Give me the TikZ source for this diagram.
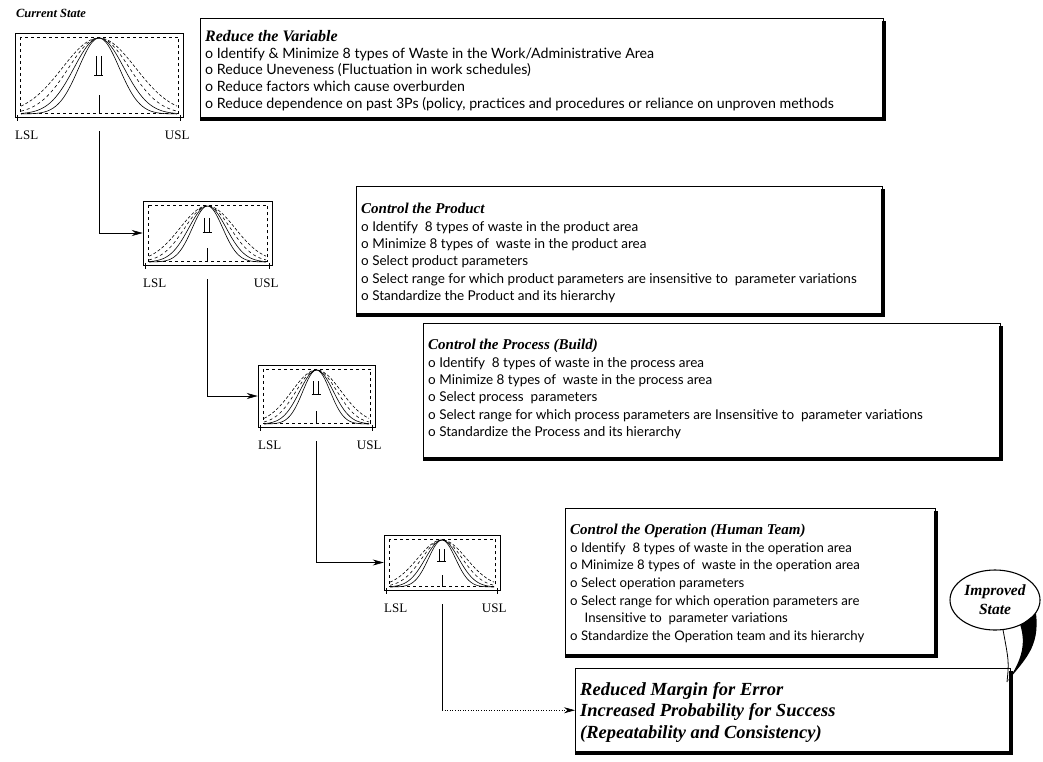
\documentclass[tikz,border=0pt]{standalone}
\usepackage{fontspec}
\setmainfont{Liberation Serif}
\newfontfamily\bodyfont{Lato}
\usetikzlibrary{arrows.meta,calc,shapes.geometric}

% heading inside a step box
\newcommand\stephead[1]{{\rmfamily\bfseries\itshape\fontsize{15}{17}\selectfont #1}}

\tikzset{
  shbox/.style={draw, line width=0.5pt, rectangle, anchor=north west, inner sep=0pt},
  boxtext/.style={anchor=north west, align=left, inner sep=0pt,
    font=\bodyfont\fontsize{13.5}{17.4}\selectfont},
  conn/.style={line width=0.6pt, -{Stealth[length=11pt,width=6pt]}},
  frame/.style={draw, line width=0.5pt, rectangle, inner sep=0pt},
  innerframe/.style={draw, line width=0.4pt, dashed},
  bell/.style={line width=0.6pt},
  lbl/.style={font=\rmfamily\fontsize{13}{14}\selectfont, inner sep=0pt},
  shadowedge/.style={line width=4pt, line join=miter},
}

% bell-curve panel: #1 name, #2 left, #3 top, #4 right, #5 bottom
\newcommand\bellgraph[5]{%
  \node[frame, minimum width={#4-#2}, minimum height={#5-#3}] (#1) at ({(#2+#4)/2},{(#3+#5)/2}) {};
  \draw[innerframe] ($(#1.north west)+(5,4)$) rectangle ($(#1.south east)+(-5,-4)$);
  \pgfmathsetmacro\cx{(#2+#4)/2}%
  \pgfmathsetmacro\base{#5-3}%
  \pgfmathsetmacro\hh{#5-#3-8}%
  \pgfmathsetmacro\ww{(#4-#2)/2-6}%
  \foreach \s/\st in {0.26/solid, 0.32/solid, 0.39/dashed, 0.47/densely dashed} {
    \draw[bell, \st] plot[domain=-\ww:\ww, samples=60, smooth, variable=\t]
      ({\cx+\t},{\base-\hh*exp(-0.5*(\t*\t)/((\s*\ww)*(\s*\ww)))});
  }
  \draw[line width=0.5pt] (\cx,\base) -- (\cx,{\base-0.25*\hh});
  \draw[line width=0.5pt] ({\cx-3},{#3+0.3*\hh}) -- ({\cx-3},{#3+0.55*\hh})
                          ({\cx+2},{#3+0.3*\hh}) -- ({\cx+2},{#3+0.55*\hh})
                          ({\cx-5},{#3+0.55*\hh}) -- ({\cx+4},{#3+0.55*\hh});
  \draw[line width=1pt] ($(#1.south west)+(3,-2)$) -- ++(0,6);
  \draw[line width=1pt] ($(#1.south east)+(-3,-2)$) -- ++(0,6);
  \node[lbl] (#1-lsl) at ($(#1.south west)+(12,18)$) {LSL};
  \node[lbl] (#1-usl) at ($(#1.south east)+(-6,18)$) {USL};
}

\begin{document}
\begin{tikzpicture}[x=1pt, y=-1pt]
\useasboundingbox (0,0) rectangle (1043,761);

\node[font=\rmfamily\bfseries\itshape\fontsize{12.5}{14}\selectfont] (cur) at (51,13) {Current State};

% bell-curve panels
\bellgraph{c1}{15}{33}{183}{117}
\bellgraph{c2}{143}{201}{272}{265}
\bellgraph{c3}{258}{365}{375}{427}
\bellgraph{c4}{384}{535}{500}{590}

% step boxes
\node[shbox, minimum width=683, minimum height=100] (b1) at (200,18) {};
\node[boxtext, font=\bodyfont\fontsize{14.2}{16.8}\selectfont] (t1) at ($(b1.north west)+(5,12)$) {%
  {\rmfamily\bfseries\itshape\fontsize{16}{17}\selectfont Reduce the Variable}\\
  o Identify \& Minimize 8 types of Waste in the Work/Administrative Area\\
  o Reduce Uneveness (Fluctuation in work schedules)\\
  o Reduce factors which cause overburden\\
  o Reduce dependence on past 3Ps (policy, practices and procedures or reliance on unproven methods};

\node[shbox, minimum width=526, minimum height=128] (b2) at (356,186) {};
\node[boxtext] (t2) at ($(b2.north west)+(5,17)$) {%
  \stephead{Control the Product}\\
  o Identify\ \ 8 types of waste in the product area\\
  o Minimize 8 types of\ \ waste in the product area\\
  o Select product parameters\\
  o Select range for which product parameters are insensitive to\ \ parameter variations\\
  o Standardize the Product and its hierarchy};

\node[shbox, minimum width=577, minimum height=135] (b3) at (423,323) {};
\node[boxtext] (t3) at ($(b3.north west)+(5,16)$) {%
  \stephead{Control the Process (Build)}\\
  o Identify\ \ 8 types of waste in the process area\\
  o Minimize 8 types of\ \ waste in the process area\\
  o Select process\ \ parameters\\
  o Select range for which process parameters are Insensitive to\ \ parameter variations\\
  o Standardize the Process and its hierarchy};

\node[shbox, minimum width=370, minimum height=147] (b4) at (565,508) {};
\node[boxtext, font=\bodyfont\fontsize{13.2}{17.6}\selectfont] (t4) at ($(b4.north west)+(5,16)$) {%
  \stephead{Control the Operation (Human Team)}\\
  o Identify\ \ 8 types of waste in the operation area\\
  o Minimize 8 types of\ \ waste in the operation area\\
  o Select operation parameters\\
  o Select range for which operation parameters are\\
  \hspace*{1.1em}Insensitive to\ \ parameter variations\\
  o Standardize the Operation team and its hierarchy};

\node[shbox, minimum width=435, minimum height=84] (b5) at (575,668) {};
\node[boxtext, font=\rmfamily\bfseries\itshape\fontsize{18.5}{21.5}\selectfont] (t5) at ($(b5.north west)+(5,14)$) {%
  Reduced Margin for Error\\
  Increased Probability for Success\\
  (Repeatability and Consistency)};

% heavy right and bottom edges of the step boxes
\foreach \b in {b1,b2,b3,b4,b5} {
  \draw[shadowedge] ([yshift=-3pt]\b.north east) -- (\b.south east) -- (\b.south west);
}

% connectors between the panels
\draw[conn, shorten <=14pt] (c1.south) |- (c2.west);
\draw[conn, shorten <=14pt] (c2.south) |- (c3.west);
\draw[conn, shorten <=14pt] (c3.south) |- (c4.west);
\coordinate (k4) at (c4.south |- b5.west);
\draw[line width=0.6pt, shorten <=14pt] (c4.south) -- (k4);
\draw[conn, dotted] (k4) -- (b5.west);

% callout bubble
\node[ellipse, draw, line width=1.1pt, fill=white, minimum width=90, minimum height=60,
      inner sep=0pt, align=center,
      font=\rmfamily\bfseries\itshape\fontsize{15.5}{19}\selectfont] (imp) at (995,600) {Improved\\State};
\draw[line width=0.8pt] (imp.-75) .. controls (1009,662) .. (1007,682);
\fill (imp.-45) .. controls (1028,650) and (1016,668) .. (1007,682)
      .. controls (1024,660) and (1040,648) .. (imp.-18) -- cycle;
\end{tikzpicture}
\end{document}
